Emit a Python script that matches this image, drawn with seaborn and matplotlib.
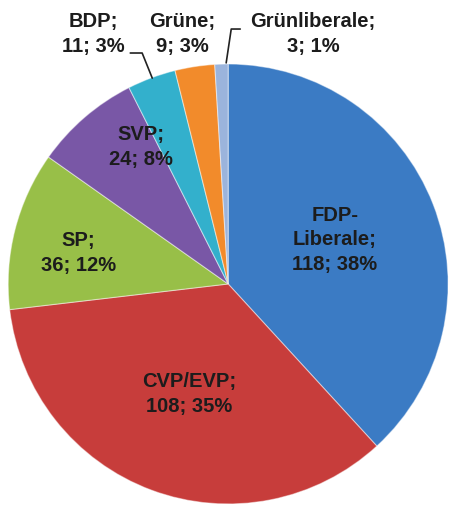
import matplotlib
matplotlib.use("Agg")
import matplotlib.pyplot as plt
import seaborn as sns

parties = ["FDP-\nLiberale", "CVP/EVP", "SP", "SVP", "BDP", "Grüne", "Grünliberale"]
seats = [118, 108, 36, 24, 11, 9, 3]
percents = [38, 35, 12, 8, 3, 3, 1]
colors = ["#3b7bc4", "#c73d3b", "#98bf48", "#7957a6", "#33b0cc", "#f28b2b", "#9bb4dc"]

sns.set_style("white")
plt.rcParams['font.family'] = ['Liberation Sans', 'DejaVu Sans']

fig = plt.figure(figsize=(4.5, 5.08), dpi=100)
ax = fig.add_axes([0.018, 0.008, 0.978, 0.866])

wedges, _ = ax.pie(seats, colors=colors, startangle=90, counterclock=False,
                   wedgeprops=dict(linewidth=0.8))
for w in wedges:
    w.set_edgecolor((1, 1, 1, 0.45))
ax.set_xlim(-1, 1)
ax.set_ylim(-1, 1)
ax.axis("off")

# label positions in pie data coords
label_pos = [(0.486, 0.20), (-0.177, -0.50), (-0.68, 0.14), (-0.395, 0.623),
             (-0.614, 1.136), (-0.209, 1.136), (0.386, 1.136)]
for name, n, p, (x, y) in zip(parties, seats, percents, label_pos):
    ax.text(x, y, f"{name};\n{n}; {p}%", ha="center", va="center",
            fontsize=14.5, fontweight="bold", color="#1c1c1c",
            linespacing=1.38, clip_on=False)

# leader lines for outer labels
ax.plot([-0.445, -0.391, -0.345], [1.05, 1.05, 0.936], color="#222222", lw=1.2, clip_on=False)
ax.plot([0.055, 0.014, -0.009], [1.159, 1.159, 1.005], color="#222222", lw=1.2, clip_on=False)

fig.savefig("out.png", dpi=100)
